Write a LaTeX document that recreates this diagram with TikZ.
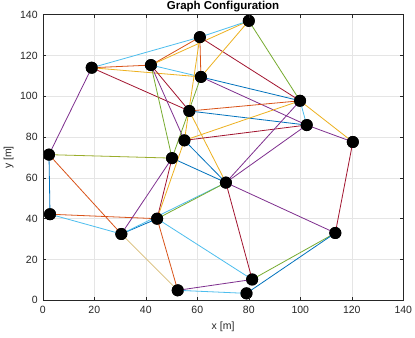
\documentclass[tikz,border=0pt]{standalone}
\usepackage{fontspec}
\setmainfont{Liberation Sans}
\definecolor{mblue}{rgb}{0,0.447,0.741}
\definecolor{morange}{rgb}{0.85,0.325,0.098}
\definecolor{myellow}{rgb}{0.929,0.694,0.125}
\definecolor{mpurple}{rgb}{0.494,0.184,0.556}
\definecolor{mgreen}{rgb}{0.466,0.674,0.188}
\definecolor{mcyan}{rgb}{0.301,0.745,0.933}
\definecolor{mred}{rgb}{0.635,0.078,0.184}
\definecolor{axgray}{rgb}{0.15,0.15,0.15}
\tikzset{
  vtx/.style={circle,fill=black,inner sep=0pt,minimum size=12bp},
  edge/.style={line width=0.8bp},
  ticklab/.style={font=\fontsize{10.5bp}{12bp}\selectfont,text=axgray,inner sep=0pt},
}
\begin{document}
\begin{tikzpicture}
\useasboundingbox (-42.8bp,-37.7bp) rectangle (372.2bp,300.3bp);
\fill[white] (-42.8bp,-37.7bp) rectangle (372.2bp,300.3bp);
\begin{scope}[x=2.575bp,y=2.04bp]
% grid
\foreach \v in {20,40,...,120} {
  \draw[black!10,line width=0.5bp] (\v,0) -- (\v,140);
  \draw[black!10,line width=0.5bp] (0,\v) -- (140,\v);
}
% nodes
\node[vtx] (A) at (80,137) {};
\node[vtx] (B) at (61,129) {};
\node[vtx] (C) at (19,114) {};
\node[vtx] (D) at (42,115.3) {};
\node[vtx] (E) at (61.4,109.5) {};
\node[vtx] (F) at (56.9,92.8) {};
\node[vtx] (G) at (55,78.4) {};
\node[vtx] (H) at (2.4,71.4) {};
\node[vtx] (I) at (50.2,69.7) {};
\node[vtx] (J) at (99.9,97.8) {};
\node[vtx] (K) at (102.5,85.9) {};
\node[vtx] (L) at (120.4,77.6) {};
\node[vtx] (M) at (71.1,57.7) {};
\node[vtx] (N) at (113.6,33) {};
\node[vtx] (O) at (81.3,10.2) {};
\node[vtx] (P) at (79.1,3.4) {};
\node[vtx] (Q) at (2.8,42.2) {};
\node[vtx] (R) at (30.5,32.5) {};
\node[vtx] (S) at (44.4,40) {};
\node[vtx] (T) at (52.4,4.9) {};
% edges
\draw[edge,mcyan] (C.center) -- (B.center);
\draw[edge,morange] (C.center) -- (D.center);
\draw[edge,myellow] (C.center) -- (E.center);
\draw[edge,mred] (C.center) -- (F.center);
\draw[edge,mpurple] (C.center) -- (H.center);
\draw[edge,morange] (D.center) -- (B.center);
\draw[edge,myellow] (D.center) -- (A.center);
\draw[edge,mcyan] (B.center) -- (A.center);
\draw[edge,mcyan] (D.center) -- (E.center);
\draw[edge,mgreen] (D.center) -- (I.center);
\draw[edge,mpurple] (D.center) -- (G.center);
\draw[edge,mred] (D.center) -- (F.center);
\draw[edge,morange] (B.center) -- (E.center);
\draw[edge,mred] (B.center) -- (J.center);
\draw[edge,myellow] (B.center) -- (G.center);
\draw[edge,myellow] (A.center) -- (E.center);
\draw[edge,mgreen] (A.center) -- (J.center);
\draw[edge,mblue] (E.center) -- (J.center);
\draw[edge,mpurple] (E.center) -- (K.center);
\draw[edge,mgreen] (E.center) -- (I.center);
\draw[edge,morange] (F.center) -- (J.center);
\draw[edge,mblue] (F.center) -- (K.center);
\draw[edge,myellow] (F.center) -- (M.center);
\draw[edge,myellow] (G.center) -- (J.center);
\draw[edge,mred] (G.center) -- (K.center);
\draw[edge,mblue] (G.center) -- (M.center);
\draw[edge,mblue] (I.center) -- (M.center);
\draw[edge,mgreen!70!myellow] (H.center) -- (I.center);
\draw[edge,mblue] (H.center) -- (Q.center);
\draw[edge,morange] (H.center) -- (R.center);
\draw[edge,morange] (Q.center) -- (S.center);
\draw[edge,mcyan] (Q.center) -- (R.center);
\draw[edge,mblue] (R.center) -- (S.center);
\draw[edge,mcyan] (R.center) -- (M.center);
\draw[edge,mgreen] (S.center) -- (M.center);
\draw[edge,mpurple] (R.center) -- (I.center);
\draw[edge,myellow!80!black!60!white] (R.center) -- (T.center);
\draw[edge,mred] (S.center) -- (I.center);
\draw[edge,myellow] (S.center) -- (G.center);
\draw[edge,morange] (S.center) -- (T.center);
\draw[edge,mcyan] (S.center) -- (O.center);
\draw[edge,mpurple] (T.center) -- (O.center);
\draw[edge,mcyan] (T.center) -- (P.center);
\draw[edge,mred] (M.center) -- (O.center);
\draw[edge,mpurple] (M.center) -- (N.center);
\draw[edge,mpurple] (M.center) -- (J.center);
\draw[edge,mpurple] (M.center) -- (K.center);
\draw[edge,mgreen] (O.center) -- (N.center);
\draw[edge,mblue] (P.center) -- (N.center);
\draw[edge,mred] (N.center) -- (L.center);
\draw[edge,mcyan] (J.center) -- (K.center);
\draw[edge,myellow] (J.center) -- (L.center);
\draw[edge,mpurple] (K.center) -- (L.center);
% redraw nodes on top
\foreach \n in {A,B,C,D,E,F,G,H,I,J,K,L,M,N,O,P,Q,R,S,T}
  \fill[black] (\n) circle[radius=6bp];
% axes box and ticks
\draw[axgray,line width=0.6bp] (0,0) rectangle (140,140);
\foreach \v in {0,20,...,140} {
  \draw[axgray,line width=0.6bp] (\v,0) -- ++(0,3.5bp);
  \draw[axgray,line width=0.6bp] (\v,140) -- ++(0,-3.5bp);
  \draw[axgray,line width=0.6bp] (0,\v) -- ++(3.5bp,0);
  \draw[axgray,line width=0.6bp] (140,\v) -- ++(-3.5bp,0);
  \node[ticklab,anchor=north] (xt\v) at ([yshift=-6bp]\v,0) {\v};
  \node[ticklab,anchor=east] (yt\v) at ([xshift=-5bp]0,\v) {\v};
}
\node[ticklab,anchor=north] (xlab) at ([yshift=-21bp]70,0) {x [m]};
\node[ticklab,anchor=south,rotate=90] (ylab) at ([xshift=-29bp]0,70) {y [m]};
\node[inner sep=0pt,anchor=south,font=\fontsize{11.5bp}{13bp}\selectfont\bfseries] (title) at ([yshift=3bp]70,140) {Graph Configuration};
\end{scope}
\end{tikzpicture}
\end{document}
